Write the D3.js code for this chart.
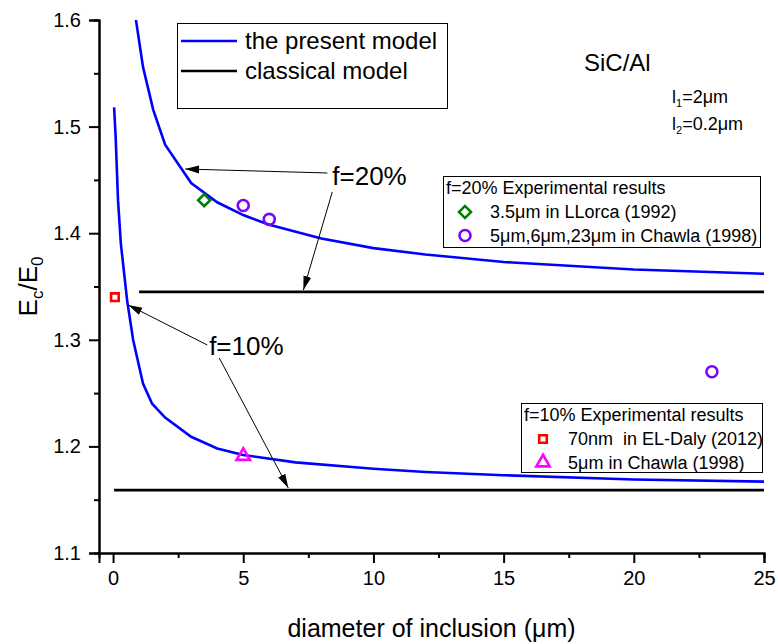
<!DOCTYPE html>
<html>
<head>
<meta charset="utf-8">
<script src="https://cdn.jsdelivr.net/npm/d3@7"></script>
<style>
  body { margin: 0; background: #fff; }
  svg { display: block; font-family: "Liberation Sans", Arial, sans-serif; }
  text { white-space: pre; }
</style>
</head>
<body>
<div id="chart"></div>
<script>
// f=20% and f=10% curves, diameter (um) vs Ec/E0
var f20Diam  = [0.85, 0.88, 1.15, 1.54, 2, 3, 4, 5, 6, 8, 10, 12, 15, 20, 25];
var f20Model = [1.605, 1.60, 1.556, 1.516, 1.483, 1.447, 1.429, 1.417, 1.408, 1.395, 1.386, 1.380, 1.373, 1.366, 1.362];
var f10Diam  = [0.04, 0.1, 0.19, 0.3, 0.54, 0.77, 1.15, 1.5, 2, 3, 4, 5, 7, 10, 12, 15, 20, 25];
var f10Model = [1.518, 1.49, 1.431, 1.39, 1.337, 1.30, 1.259, 1.24, 1.227, 1.209, 1.198, 1.192, 1.185, 1.179, 1.176, 1.173, 1.169, 1.167];
var classicalF20 = { diam: [1, 25], value: [1.345, 1.345] };
var classicalF10 = { diam: [0.04, 25], value: [1.159, 1.159] };

var llorcaF20 = [[3.5, 1.431]];
var chawlaF20 = [[5, 1.426], [6, 1.413], [23, 1.27]];
var elDalyF10 = [[0.07, 1.340]];
var chawlaF10 = [[5, 1.191]];

var xTicks = [0, 5, 10, 15, 20, 25];
var xMinor = [2.5, 7.5, 12.5, 17.5, 22.5];
var yTicks = [1.1, 1.2, 1.3, 1.4, 1.5, 1.6];
var yMinor = [1.15, 1.25, 1.35, 1.45, 1.55];

// annotation arrows, [from, to] in data units
var f20Arrows = [[[8.23, 1.4565], [2.77, 1.4602]], [[8.42, 1.4387], [7.31, 1.3467]]];
var f10Arrows = [[[3.62, 1.2951], [0.58, 1.3327]], [[4.08, 1.2829], [6.73, 1.161]]];

(function () {
  var W = 778, H = 644;
  var margin = { top: 20, right: 14, bottom: 91, left: 99 };

  var x = d3.scaleLinear().domain([-0.54, 25]).range([margin.left, W - margin.right]);
  var y = d3.scaleLinear().domain([1.1, 1.6]).range([H - margin.bottom, margin.top]);

  var svg = d3.select("#chart").append("svg")
    .attr("width", W)
    .attr("height", H);

  var defs = svg.append("defs");
  defs.append("clipPath").attr("id", "plotClip")
    .append("rect")
    .attr("x", margin.left).attr("y", margin.top)
    .attr("width", W - margin.left - margin.right)
    .attr("height", H - margin.top - margin.bottom);
  defs.append("marker")
    .attr("id", "arrowHead")
    .attr("markerUnits", "userSpaceOnUse")
    .attr("viewBox", "0 -5 14 10")
    .attr("refX", 14).attr("refY", 0)
    .attr("markerWidth", 14).attr("markerHeight", 10)
    .attr("orient", "auto")
    .append("path")
    .attr("d", "M0,-4L14,0L0,4Z")
    .attr("fill", "#000");

  // axes
  svg.append("g")
    .attr("transform", "translate(" + margin.left + ",0)")
    .call(d3.axisLeft(y).tickValues(yTicks).tickSize(10).tickPadding(8).tickFormat(d3.format(".1f")));
  svg.append("g")
    .attr("transform", "translate(" + margin.left + ",0)")
    .call(d3.axisLeft(y).tickValues(yMinor).tickSize(5).tickFormat(""));
  svg.append("g")
    .attr("transform", "translate(0," + (H - margin.bottom) + ")")
    .call(d3.axisBottom(x).tickValues(xTicks).tickSize(10).tickPadding(8).tickFormat(d3.format("d")));
  svg.append("g")
    .attr("transform", "translate(0," + (H - margin.bottom) + ")")
    .call(d3.axisBottom(x).tickValues(xMinor).tickSize(5).tickFormat(""));

  svg.selectAll(".domain").attr("stroke", "#000").attr("stroke-width", 2);
  svg.selectAll(".tick line").attr("stroke", "#000").attr("stroke-width", 2);
  svg.selectAll(".tick text")
    .attr("font-family", "Liberation Sans, Arial, sans-serif")
    .attr("font-size", 20)
    .attr("fill", "#000");

  var yLab = svg.append("text")
    .attr("transform", "translate(37," + ((margin.top + H - margin.bottom) / 2) + ") rotate(-90)")
    .attr("text-anchor", "middle")
    .attr("font-size", 26);
  yLab.append("tspan").text("E");
  yLab.append("tspan").attr("font-size", 17).attr("dy", 6).text("c");
  yLab.append("tspan").attr("dy", -6).text("/E");
  yLab.append("tspan").attr("font-size", 17).attr("dy", 6).text("0");

  svg.append("text")
    .attr("x", (margin.left + W - margin.right) / 2)
    .attr("y", 637)
    .attr("text-anchor", "middle")
    .attr("font-size", 25)
    .text("diameter of inclusion (\u03bcm)");

  // model lines
  var plot = svg.append("g").attr("clip-path", "url(#plotClip)");
  var line = d3.line()
    .x(function (d) { return x(d[0]); })
    .y(function (d) { return y(d[1]); });

  var series = [
    { diam: f20Diam, value: f20Model, color: "#0000ff" },
    { diam: f10Diam, value: f10Model, color: "#0000ff" },
    { diam: classicalF20.diam, value: classicalF20.value, color: "#000" },
    { diam: classicalF10.diam, value: classicalF10.value, color: "#000" }
  ];
  series.forEach(function (s) {
    plot.append("path")
      .datum(d3.zip(s.diam, s.value))
      .attr("d", line)
      .attr("fill", "none")
      .attr("stroke", s.color)
      .attr("stroke-width", 2.6);
  });

  // experimental markers
  var symDiamond = d3.symbol().type(d3.symbolSquare).size(72);
  var symSquare = d3.symbol().type(d3.symbolSquare).size(58);
  var symTriangle = d3.symbol().type(d3.symbolTriangle).size(78);

  function drawPoints(data, shape, color, rotate) {
    svg.append("g").selectAll("path")
      .data(data)
      .enter().append("path")
      .attr("d", shape)
      .attr("transform", function (d) {
        return "translate(" + x(d[0]) + "," + y(d[1]) + ")" + (rotate ? " rotate(45)" : "");
      })
      .attr("fill", "none")
      .attr("stroke", color)
      .attr("stroke-width", 2.6);
  }
  function drawCircles(data, color) {
    svg.append("g").selectAll("circle")
      .data(data)
      .enter().append("circle")
      .attr("cx", function (d) { return x(d[0]); })
      .attr("cy", function (d) { return y(d[1]); })
      .attr("r", 5.5)
      .attr("fill", "none")
      .attr("stroke", color)
      .attr("stroke-width", 2.6);
  }

  drawPoints(llorcaF20, symDiamond, "#008000", true);
  drawCircles(chawlaF20, "#8000ff");
  drawPoints(elDalyF10, symSquare, "#ff0000", false);
  drawPoints(chawlaF10, symTriangle, "#ff00ff", false);

  // annotations
  function drawArrows(arrows) {
    svg.append("g").selectAll("line")
      .data(arrows)
      .enter().append("line")
      .attr("x1", function (d) { return x(d[0][0]); })
      .attr("y1", function (d) { return y(d[0][1]); })
      .attr("x2", function (d) { return x(d[1][0]); })
      .attr("y2", function (d) { return y(d[1][1]); })
      .attr("stroke", "#000")
      .attr("stroke-width", 1)
      .attr("marker-end", "url(#arrowHead)");
  }
  drawArrows(f20Arrows);
  drawArrows(f10Arrows);

  svg.append("text")
    .attr("x", x(9.85)).attr("y", y(1.445))
    .attr("text-anchor", "middle").attr("font-size", 26)
    .text("f=20%");
  svg.append("text")
    .attr("x", x(5.12)).attr("y", y(1.2857))
    .attr("text-anchor", "middle").attr("font-size", 26)
    .text("f=10%");

  svg.append("text")
    .attr("x", 584).attr("y", 71)
    .attr("font-size", 24)
    .text("SiC/Al");

  var lenLabels = [["1", "=2\u03bcm"], ["2", "=0.2\u03bcm"]];
  lenLabels.forEach(function (l, i) {
    var t = svg.append("text")
      .attr("x", 672).attr("y", 103 + i * 27)
      .attr("font-size", 18);
    t.append("tspan").text("l");
    t.append("tspan").attr("font-size", 11).attr("dy", 4).text(l[0]);
    t.append("tspan").attr("dy", -4).text(l[1]);
  });

  // legend: models
  var modelLegend = [
    { label: "the present model", color: "#0000ff" },
    { label: "classical model", color: "#000" }
  ];
  var lg = svg.append("g");
  lg.append("rect")
    .attr("x", 177.5).attr("y", 23.5).attr("width", 270).attr("height", 85)
    .attr("fill", "#fff").attr("stroke", "#000").attr("stroke-width", 1);
  modelLegend.forEach(function (m, i) {
    var cy = 41 + i * 30;
    lg.append("line")
      .attr("x1", 181).attr("x2", 237).attr("y1", cy).attr("y2", cy)
      .attr("stroke", m.color).attr("stroke-width", 2.6);
    lg.append("text")
      .attr("x", 245).attr("y", cy + 8)
      .attr("font-size", 24)
      .text(m.label);
  });

  // legends: experimental results
  function expLegend(bx, by, bw, bh, title, rows) {
    var g = svg.append("g");
    g.append("rect")
      .attr("x", bx + 0.5).attr("y", by + 0.5).attr("width", bw).attr("height", bh)
      .attr("fill", "#fff").attr("stroke", "#000").attr("stroke-width", 1);
    g.append("text")
      .attr("x", bx + 3).attr("y", by + 18)
      .attr("font-size", 18)
      .text(title);
    rows.forEach(function (r, i) {
      var cy = by + 36 + i * 23.5;
      var cx = bx + 22;
      if (r.shape === "circle") {
        g.append("circle").attr("cx", cx).attr("cy", cy).attr("r", 5.5)
          .attr("fill", "none").attr("stroke", r.color).attr("stroke-width", 2.6);
      } else {
        g.append("path")
          .attr("d", r.shape)
          .attr("transform", "translate(" + cx + "," + cy + ")" + (r.rotate ? " rotate(45)" : ""))
          .attr("fill", "none").attr("stroke", r.color).attr("stroke-width", 2.6);
      }
      g.append("text")
        .attr("x", bx + 47).attr("y", cy + 6)
        .attr("font-size", 18)
        .text(r.label);
    });
  }

  expLegend(443, 176, 317, 71, "f=20% Experimental results", [
    { shape: symDiamond, rotate: true, color: "#008000", label: "3.5\u03bcm in LLorca (1992)" },
    { shape: "circle", color: "#8000ff", label: "5\u03bcm,6\u03bcm,23\u03bcm in Chawla (1998)" }
  ]);
  expLegend(521, 403, 241, 69, "f=10% Experimental results", [
    { shape: symSquare, color: "#ff0000", label: "70nm  in EL-Daly (2012)" },
    { shape: symTriangle, color: "#ff00ff", label: "5\u03bcm in Chawla (1998)" }
  ]);
})();
</script>
</body>
</html>
